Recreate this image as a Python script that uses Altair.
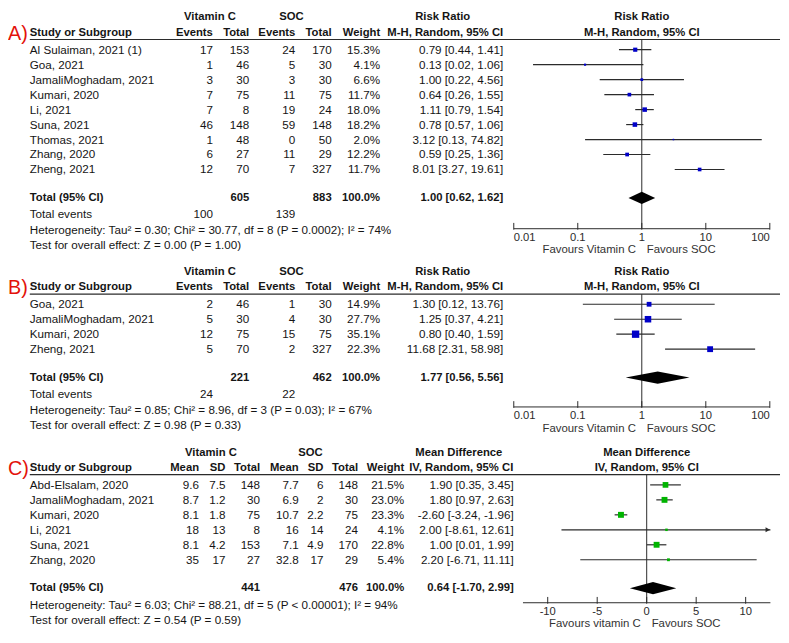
import altair as alt
import pandas as pd

# ---------------- Panel A: risk ratio ----------------
a_study = ["Al Sulaiman, 2021 (1)", "Goa, 2021", "JamaliMoghadam, 2021", "Kumari, 2020",
           "Li, 2021", "Suna, 2021", "Thomas, 2021", "Zhang, 2020", "Zheng, 2021"]
a_ev_vc = [17, 1, 3, 7, 7, 46, 1, 6, 12]
a_tot_vc = [153, 46, 30, 75, 8, 148, 48, 27, 70]
a_ev_soc = [24, 5, 3, 11, 19, 59, 0, 11, 7]
a_tot_soc = [170, 30, 30, 75, 24, 148, 50, 29, 327]
a_weight = [15.3, 4.1, 6.6, 11.7, 18.0, 18.2, 2.0, 12.2, 11.7]
a_est = [0.79, 0.13, 1.00, 0.64, 1.11, 0.78, 3.12, 0.59, 8.01]
a_lo = [0.44, 0.02, 0.22, 0.26, 0.79, 0.57, 0.13, 0.25, 3.27]
a_hi = [1.41, 1.06, 4.56, 1.55, 1.54, 1.06, 74.82, 1.36, 19.61]
a_totals = [605, 883]
a_total_events = [100, 139]
a_pooled = [1.00, 0.62, 1.62]
a_het = "Heterogeneity: Tau² = 0.30; Chi² = 30.77, df = 8 (P = 0.0002); I² = 74%"
a_test = "Test for overall effect: Z = 0.00 (P = 1.00)"

# ---------------- Panel B: risk ratio ----------------
b_study = ["Goa, 2021", "JamaliMoghadam, 2021", "Kumari, 2020", "Zheng, 2021"]
b_ev_vc = [2, 5, 12, 5]
b_tot_vc = [46, 30, 75, 70]
b_ev_soc = [1, 4, 15, 2]
b_tot_soc = [30, 30, 75, 327]
b_weight = [14.9, 27.7, 35.1, 22.3]
b_est = [1.30, 1.25, 0.80, 11.68]
b_lo = [0.12, 0.37, 0.40, 2.31]
b_hi = [13.76, 4.21, 1.59, 58.98]
b_totals = [221, 462]
b_total_events = [24, 22]
b_pooled = [1.77, 0.56, 5.56]
b_het = "Heterogeneity: Tau² = 0.85; Chi² = 8.96, df = 3 (P = 0.03); I² = 67%"
b_test = "Test for overall effect: Z = 0.98 (P = 0.33)"

# ---------------- Panel C: mean difference ----------------
c_study = ["Abd-Elsalam, 2020", "JamaliMoghadam, 2021", "Kumari, 2020", "Li, 2021",
           "Suna, 2021", "Zhang, 2020"]
c_mean_vc = [9.6, 8.7, 8.1, 18, 8.1, 35]
c_sd_vc = [7.5, 1.2, 1.8, 13, 4.2, 17]
c_tot_vc = [148, 30, 75, 8, 153, 27]
c_mean_soc = [7.7, 6.9, 10.7, 16, 7.1, 32.8]
c_sd_soc = [6, 2, 2.2, 14, 4.9, 17]
c_tot_soc = [148, 30, 75, 24, 170, 29]
c_weight = [21.5, 23.0, 23.3, 4.1, 22.8, 5.4]
c_est = [1.90, 1.80, -2.60, 2.00, 1.00, 2.20]
c_lo = [0.35, 0.97, -3.24, -8.61, 0.01, -6.71]
c_hi = [3.45, 2.63, -1.96, 12.61, 1.99, 11.11]
c_totals = [441, 476]
c_pooled = [0.64, -1.70, 2.99]
c_het = "Heterogeneity: Tau² = 6.03; Chi² = 88.21, df = 5 (P < 0.00001); I² = 94%"
c_test = "Test for overall effect: Z = 0.54 (P = 0.59)"

rr_ticks = [0.01, 0.1, 1, 10, 100]
md_ticks = [-10, -5, 0, 5, 10]

# ---------------- style / layout ----------------
FONT = "Liberation Sans, Arial, sans-serif"
FS = 11.8
FSB = 11.4
INK = "#151515"
LINE = "#2b2b2b"
RED = "#e3120b"
BLUE = "#0000c8"
GREEN = "#00b400"
W = 780
HGT = 625
K = 0.976            # slight vertical compression to fit the page margins
ROWH = 15.5          # row pitch of the reference table
H1, H2, HL = -2.15, -1.13, -0.68
DHALF = 0.41


def yc(y):
    return 5.5 + (y - 7) * K


def gy(yref):
    return (yref - 40.2) / ROWH


YS = alt.Scale(domain=[0, 10], range=[yc(40.2), yc(40.2 + 10 * ROWH)], nice=False, zero=False)
XS_RR = alt.Scale(type="log", domain=[0.01, 100], range=[511, 769.7], nice=False)
XMAX = 12.5
XS_MD = alt.Scale(type="linear", domain=[-XMAX, XMAX], range=[520.3, 770.3], nice=False, zero=False)


def Y(f="gy:Q"):
    return alt.Y(f, scale=YS, axis=None)


def ci(e, l, h):
    return f"{e:.2f} [{l:.2f}, {h:.2f}]"


def g(v):
    return f"{v:g}"


def text_mark(align="left", bold=False, color=INK, size=None, baseline="middle", dx=0):
    if size is None:
        size = FSB if bold else FS
    return dict(align=align, baseline=baseline, font=FONT, fontSize=size,
                fontWeight="bold" if bold else "normal", color=color, dx=dx)


def lab(text, row, x, align="left", bold=False, color=INK, size=None, baseline="middle"):
    d = pd.DataFrame({"t": [text], "gy": [row]})
    return alt.Chart(d).mark_text(**text_mark(align, bold, color, size, baseline)).encode(
        x=alt.value(x), y=Y(), text="t:N")


def flab(text, row, xv, xs, align="center", bold=False, color=INK, dx=0, size=None):
    d = pd.DataFrame({"t": [text], "gy": [row], "xv": [xv]})
    return alt.Chart(d).mark_text(**text_mark(align, bold, color, size, "middle", dx)).encode(
        x=alt.X("xv:Q", scale=xs, axis=None), y=Y(), text="t:N")


def col(df, field, x, align="right", bold=False):
    return alt.Chart(df).mark_text(**text_mark(align, bold)).encode(
        x=alt.value(x), y=Y(), text=alt.Text(f"{field}:N"))


def axis_layers(xs, ticks, dom, g_axis):
    X = lambda f: alt.X(f, scale=xs, axis=None)
    dl = pd.DataFrame({"a": [dom[0]], "b": [dom[1]], "gy": [g_axis]})
    L = [alt.Chart(dl).mark_rule(color=LINE, strokeWidth=1).encode(x=X("a:Q"), x2="b:Q", y=Y())]
    tk = pd.DataFrame({"t": ticks, "gy": [g_axis - 6 / ROWH] * len(ticks),
                       "gy2": [g_axis + 1 / ROWH] * len(ticks)})
    L.append(alt.Chart(tk).mark_rule(color=LINE, strokeWidth=1).encode(
        x=X("t:Q"), y=Y(), y2="gy2:Q"))
    lab_g = g_axis + 9.5 / ROWH
    groups = {"left": [], "center": [], "right": []}
    for t in ticks:
        if t == dom[0]:
            groups["left"].append(t)
        elif t == dom[1]:
            groups["right"].append(t)
        else:
            groups["center"].append(t)
    for al, vals in groups.items():
        if not vals:
            continue
        d = pd.DataFrame({"t": vals, "gy": [lab_g] * len(vals), "lbl": [g(v) for v in vals]})
        L.append(alt.Chart(d).mark_text(**text_mark(al, False, "#2b2b2b", 11.3)).encode(
            x=X("t:Q"), y=Y(), text="lbl:N"))
    return L


def forest_layers(df, xs, color, size_dom, size_rng, pooled, total_row, null, g_line, g_axis,
                  arrow=None):
    X = lambda f: alt.X(f, scale=xs, axis=None)
    L = []
    nl = pd.DataFrame({"x": [null], "gy": [g_line], "gy2": [g_axis]})
    L.append(alt.Chart(nl).mark_rule(color=LINE, strokeWidth=1).encode(
        x=X("x:Q"), y=Y(), y2="gy2:Q"))
    L.append(alt.Chart(df).mark_rule(color=LINE, strokeWidth=1.2).encode(
        x=X("lo:Q"), x2="hi_draw:Q", y=Y()))
    if arrow is not None and len(arrow):
        L.append(alt.Chart(arrow).mark_point(shape="triangle-right", filled=True, size=26,
                                             color=LINE, opacity=1).encode(x=X("x:Q"), y=Y()))
    L.append(alt.Chart(df).mark_square(color=color, opacity=1, filled=True).encode(
        x=X("est:Q"), y=Y(),
        size=alt.Size("weight:Q", scale=alt.Scale(domain=size_dom, range=size_rng), legend=None)))
    e, l, hh = pooled
    dia = pd.DataFrame({"x": [l, e, hh],
                        "y1": [total_row, total_row - DHALF, total_row],
                        "y2": [total_row, total_row + DHALF, total_row]})
    L.append(alt.Chart(dia).mark_area(color="black", opacity=1).encode(
        x=X("x:Q"), y=Y("y1:Q"), y2="y2:Q"))
    return L


def favours(left, right, null, xs, g_axis):
    gf = g_axis + 22.5 / ROWH
    return [flab(left, gf, null, xs, align="right", color="#333333", dx=-6, size=11.5),
            flab(right, gf, null, xs, align="left", color="#333333", dx=5, size=11.5)]


def rr_panel(letter, row0_ref, axis_ref, study, ev_vc, tot_vc, ev_soc, tot_soc, weight,
             est, lo, hi, totals, total_events, pooled, het, test, size_rng):
    off = gy(row0_ref)
    g_axis = gy(axis_ref)
    n = len(study)
    df = pd.DataFrame({
        "gy": [off + i for i in range(n)], "study": study,
        "ev_vc": [str(v) for v in ev_vc], "tot_vc": [str(v) for v in tot_vc],
        "ev_soc": [str(v) for v in ev_soc], "tot_soc": [str(v) for v in tot_soc],
        "weight": weight, "wtxt": [f"{w:.1f}%" for w in weight],
        "est": est, "lo": lo, "hi": hi, "hi_draw": hi,
        "citxt": [ci(e, l, u) for e, l, u in zip(est, lo, hi)],
    })
    hdr = pd.DataFrame({"gy": [off + HL]})
    L = [alt.Chart(hdr).mark_rule(color=LINE, strokeWidth=1.2).encode(
        x=alt.value(22), x2=alt.value(W), y=Y())]
    L.append(lab(letter, off + HL, 0, color=RED, size=20, baseline="alphabetic"))
    L += [
        lab("Vitamin C", off + H1, 204, align="center", bold=True),
        lab("SOC", off + H1, 286.3, align="center", bold=True),
        lab("Risk Ratio", off + H1, 439.2, align="center", bold=True),
        lab("Study or Subgroup", off + H2, 22, bold=True),
        lab("Events", off + H2, 207, align="right", bold=True),
        lab("Total", off + H2, 243.7, align="right", bold=True),
        lab("Events", off + H2, 290.3, align="right", bold=True),
        lab("Total", off + H2, 327, align="right", bold=True),
        lab("Weight", off + H2, 376, align="right", bold=True),
        lab("M-H, Random, 95% CI", off + H2, 500.3, align="right", bold=True),
        flab("Risk Ratio", off + H1, 1, XS_RR, bold=True),
        flab("M-H, Random, 95% CI", off + H2, 1, XS_RR, bold=True),
    ]
    L += [
        col(df, "study", 22, align="left"),
        col(df, "ev_vc", 207), col(df, "tot_vc", 243.7),
        col(df, "ev_soc", 290.3), col(df, "tot_soc", 327),
        col(df, "wtxt", 376), col(df, "citxt", 500.3),
    ]
    tr = off + n + 0.9
    L += [
        lab("Total (95% CI)", tr, 22, bold=True),
        lab(str(totals[0]), tr, 243.7, align="right", bold=True),
        lab(str(totals[1]), tr, 327, align="right", bold=True),
        lab("100.0%", tr, 376, align="right", bold=True),
        lab(ci(*pooled), tr, 500.3, align="right", bold=True),
        lab("Total events", off + n + 2, 22),
        lab(str(total_events[0]), off + n + 2, 207, align="right"),
        lab(str(total_events[1]), off + n + 2, 290.3, align="right"),
        lab(het, off + n + 3.05, 22),
        lab(test, off + n + 4.07, 22),
    ]
    L += forest_layers(df, XS_RR, BLUE, [0, max(weight)], size_rng, pooled, tr, 1,
                       off + HL, g_axis)
    L += axis_layers(XS_RR, rr_ticks, [0.01, 100], g_axis)
    L += favours("Favours Vitamin C", "Favours SOC", 1, XS_RR, g_axis)
    return alt.layer(*L)


groupA = rr_panel("A)", 40.2, 225.5, a_study, a_ev_vc, a_tot_vc, a_ev_soc, a_tot_soc,
                  a_weight, a_est, a_lo, a_hi, a_totals, a_total_events, a_pooled,
                  a_het, a_test, [0, 21])
groupB = rr_panel("B)", 303.7, 410, b_study, b_ev_vc, b_tot_vc, b_ev_soc, b_tot_soc,
                  b_weight, b_est, b_lo, b_hi, b_totals, b_total_events, b_pooled,
                  b_het, b_test, [0, 55])

# ---------------- Panel C ----------------
offC = gy(490.7)
g_axisC = gy(612.7)
nC = len(c_study)
dfC = pd.DataFrame({
    "gy": [offC + i for i in range(nC)], "study": c_study,
    "m1": [g(v) for v in c_mean_vc], "s1": [g(v) for v in c_sd_vc], "t1": [str(v) for v in c_tot_vc],
    "m2": [g(v) for v in c_mean_soc], "s2": [g(v) for v in c_sd_soc], "t2": [str(v) for v in c_tot_soc],
    "weight": c_weight, "wtxt": [f"{w:.1f}%" for w in c_weight],
    "est": c_est, "lo": c_lo, "hi": c_hi, "hi_draw": [min(v, XMAX) for v in c_hi],
    "citxt": [ci(e, l, u) for e, l, u in zip(c_est, c_lo, c_hi)],
})
arrowC = pd.DataFrame({"x": [XMAX - 0.27 for v in c_hi if v > XMAX],
                       "gy": [offC + i for i, v in enumerate(c_hi) if v > XMAX]})
hdrC = pd.DataFrame({"gy": [offC + HL]})
LC = [alt.Chart(hdrC).mark_rule(color=LINE, strokeWidth=1.2).encode(
    x=alt.value(22), x2=alt.value(W), y=Y())]
LC.append(lab("C)", offC + HL, 0, color=RED, size=20, baseline="alphabetic"))
LC += [
    lab("Vitamin C", offC + H1, 205, align="center", bold=True),
    lab("SOC", offC + H1, 305.5, align="center", bold=True),
    lab("Mean Difference", offC + H1, 455.5, align="center", bold=True),
    lab("Study or Subgroup", offC + H2, 22, bold=True),
    lab("Mean", offC + H2, 193, align="right", bold=True),
    lab("SD", offC + H2, 219.7, align="right", bold=True),
    lab("Total", offC + H2, 254.7, align="right", bold=True),
    lab("Mean", offC + H2, 293.7, align="right", bold=True),
    lab("SD", offC + H2, 318.7, align="right", bold=True),
    lab("Total", offC + H2, 353.7, align="right", bold=True),
    lab("Weight", offC + H2, 400.3, align="right", bold=True),
    lab("IV, Random, 95% CI", offC + H2, 510.5, align="right", bold=True),
    flab("Mean Difference", offC + H1, 0, XS_MD, bold=True),
    flab("IV, Random, 95% CI", offC + H2, 0, XS_MD, bold=True),
]
LC += [
    col(dfC, "study", 22, align="left"),
    col(dfC, "m1", 193), col(dfC, "s1", 219.7), col(dfC, "t1", 254.7),
    col(dfC, "m2", 293.7), col(dfC, "s2", 318.7), col(dfC, "t2", 353.7),
    col(dfC, "wtxt", 400.3), col(dfC, "citxt", 511),
]
trC = offC + nC + 0.9
LC += [
    lab("Total (95% CI)", trC, 22, bold=True),
    lab(str(c_totals[0]), trC, 254.7, align="right", bold=True),
    lab(str(c_totals[1]), trC, 353.7, align="right", bold=True),
    lab("100.0%", trC, 400.3, align="right", bold=True),
    lab(ci(*c_pooled), trC, 511, align="right", bold=True),
    lab(c_het, offC + nC + 2.05, 22),
    lab(c_test, offC + nC + 3.0, 22),
]
LC += forest_layers(dfC, XS_MD, GREEN, [0, max(c_weight)], [0, 36], c_pooled, trC, 0,
                    offC + HL, g_axisC, arrow=arrowC)
LC += axis_layers(XS_MD, md_ticks, [-XMAX, XMAX], g_axisC)
LC += favours("Favours vitamin C", "Favours SOC", 0, XS_MD, g_axisC)
groupC = alt.layer(*LC)

chart = alt.layer(groupA, groupB, groupC).resolve_scale(
    x="independent", size="independent"
).properties(width=W, height=HGT, padding=0).configure_view(stroke=None)

chart.save("out.html", embed_options={"renderer": "svg", "actions": False})
